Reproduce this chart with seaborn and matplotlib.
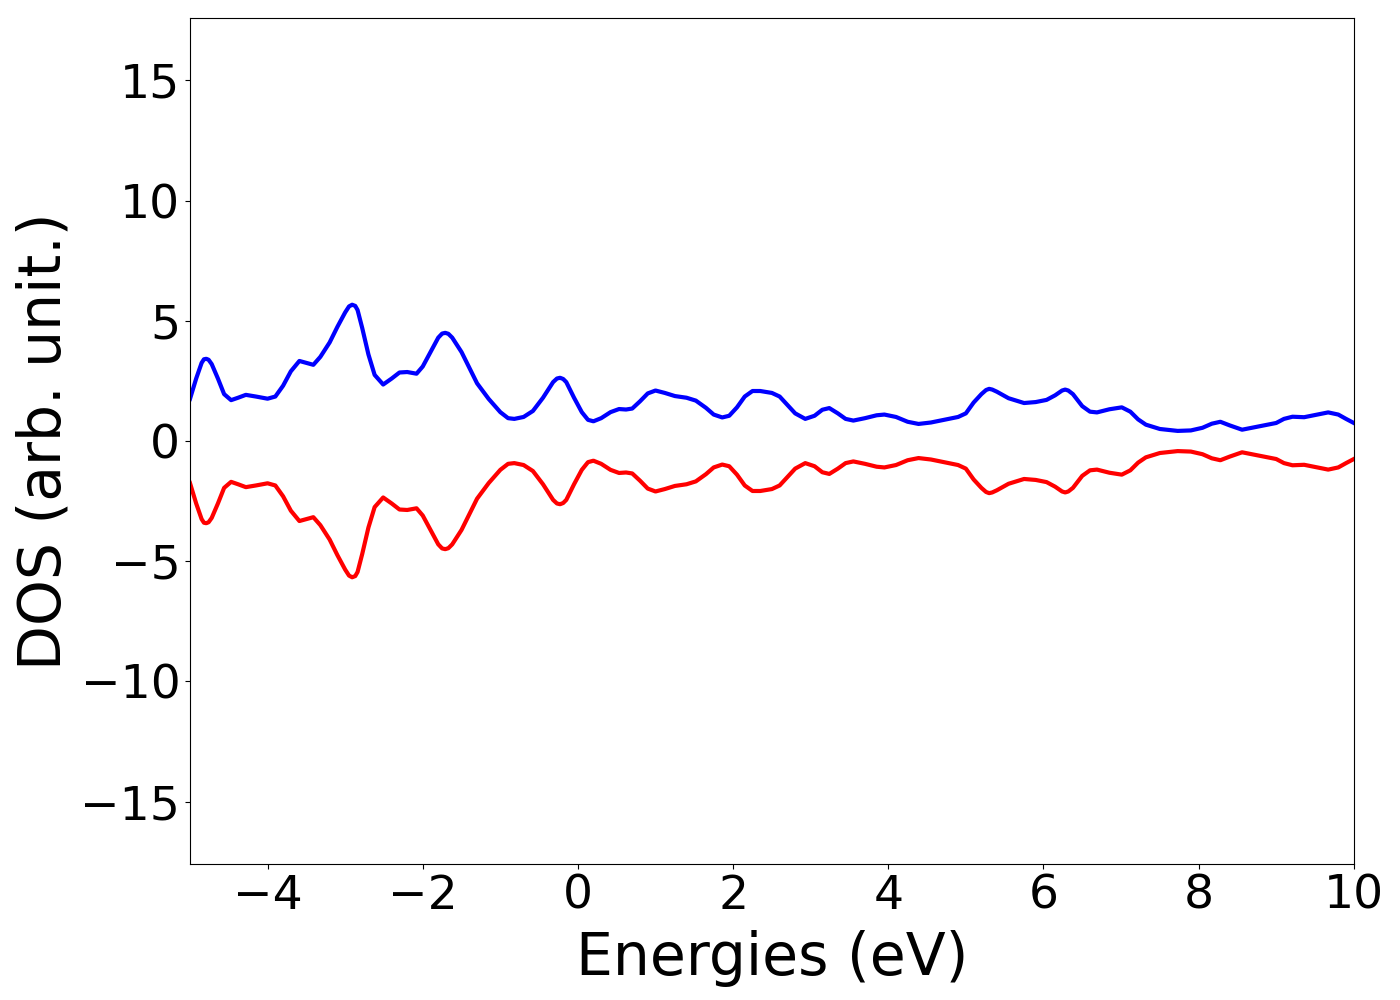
import matplotlib
matplotlib.use("Agg")
import matplotlib.pyplot as plt
import seaborn as sns
import pandas as pd

# energies (eV) and spin-resolved DOS
energies = [
    -5.00, -4.92, -4.85, -4.82, -4.79, -4.76, -4.72, -4.64, -4.56, -4.47,
    -4.38, -4.28, -4.15, -4.00, -3.90, -3.80, -3.70, -3.59, -3.50, -3.41,
    -3.32, -3.20, -3.10, -3.00, -2.95, -2.91, -2.87, -2.84, -2.78, -2.70,
    -2.62, -2.51, -2.40, -2.30, -2.20, -2.08, -2.00, -1.90, -1.80, -1.75,
    -1.71, -1.67, -1.62, -1.50, -1.40, -1.30, -1.15, -1.00, -0.90, -0.82,
    -0.70, -0.58, -0.45, -0.32, -0.27, -0.23, -0.19, -0.15, -0.05, 0.05,
    0.13, 0.20, 0.30, 0.42, 0.53, 0.62, 0.70, 0.80, 0.90, 1.00,
    1.12, 1.25, 1.40, 1.52, 1.65, 1.75, 1.86, 1.95, 2.05, 2.15,
    2.25, 2.35, 2.50, 2.60, 2.70, 2.80, 2.93, 3.05, 3.15, 3.24,
    3.35, 3.45, 3.55, 3.70, 3.85, 3.95, 4.10, 4.25, 4.39, 4.55,
    4.70, 4.90, 5.00, 5.10, 5.20, 5.26, 5.30, 5.34, 5.40, 5.55,
    5.75, 5.90, 6.04, 6.15, 6.24, 6.28, 6.32, 6.38, 6.50, 6.60,
    6.69, 6.85, 7.01, 7.12, 7.22, 7.32, 7.50, 7.73, 7.90, 8.05,
    8.17, 8.28, 8.40, 8.56, 8.70, 8.87, 9.00, 9.10, 9.21, 9.36,
    9.50, 9.67, 9.80, 9.90, 10.00,
]

dos_up = [
    1.75, 2.60, 3.25, 3.40, 3.42, 3.38, 3.20, 2.60, 1.95, 1.70,
    1.80, 1.92, 1.85, 1.76, 1.85, 2.30, 2.90, 3.33, 3.25, 3.17,
    3.50, 4.10, 4.75, 5.35, 5.60, 5.67, 5.62, 5.45, 4.70, 3.60,
    2.75, 2.35, 2.60, 2.85, 2.87, 2.80, 3.10, 3.70, 4.30, 4.47,
    4.50, 4.46, 4.30, 3.70, 3.05, 2.40, 1.75, 1.20, 0.95, 0.92,
    1.00, 1.25, 1.80, 2.45, 2.60, 2.63, 2.58, 2.45, 1.80, 1.20,
    0.88, 0.82, 0.95, 1.20, 1.33, 1.31, 1.35, 1.65, 1.98, 2.10,
    2.00, 1.87, 1.80, 1.68, 1.38, 1.10, 0.98, 1.05, 1.40, 1.85,
    2.08, 2.08, 2.00, 1.85, 1.50, 1.15, 0.92, 1.05, 1.30, 1.37,
    1.15, 0.92, 0.85, 0.95, 1.07, 1.10, 1.00, 0.80, 0.71, 0.77,
    0.87, 1.00, 1.15, 1.60, 1.95, 2.12, 2.17, 2.14, 2.05, 1.78,
    1.58, 1.62, 1.71, 1.90, 2.10, 2.14, 2.10, 1.95, 1.45, 1.22,
    1.19, 1.32, 1.40, 1.22, 0.90, 0.68, 0.50, 0.42, 0.44, 0.55,
    0.72, 0.80, 0.65, 0.47, 0.56, 0.67, 0.75, 0.92, 1.01, 0.99,
    1.08, 1.19, 1.10, 0.92, 0.75,
]

dos_down = [
    -1.75, -2.60, -3.25, -3.40, -3.42, -3.38, -3.20, -2.60, -1.95, -1.70,
    -1.80, -1.92, -1.85, -1.76, -1.85, -2.30, -2.90, -3.33, -3.25, -3.17,
    -3.50, -4.10, -4.75, -5.35, -5.60, -5.67, -5.62, -5.45, -4.70, -3.60,
    -2.75, -2.35, -2.60, -2.85, -2.87, -2.80, -3.10, -3.70, -4.30, -4.47,
    -4.50, -4.46, -4.30, -3.70, -3.05, -2.40, -1.75, -1.20, -0.95, -0.92,
    -1.00, -1.25, -1.80, -2.45, -2.60, -2.63, -2.58, -2.45, -1.80, -1.20,
    -0.88, -0.82, -0.95, -1.20, -1.33, -1.31, -1.35, -1.65, -1.98, -2.10,
    -2.00, -1.87, -1.80, -1.68, -1.38, -1.10, -0.98, -1.05, -1.40, -1.85,
    -2.08, -2.08, -2.00, -1.85, -1.50, -1.15, -0.92, -1.05, -1.30, -1.37,
    -1.15, -0.92, -0.85, -0.95, -1.07, -1.10, -1.00, -0.80, -0.71, -0.77,
    -0.87, -1.00, -1.15, -1.60, -1.95, -2.12, -2.17, -2.14, -2.05, -1.78,
    -1.58, -1.62, -1.71, -1.90, -2.10, -2.14, -2.10, -1.95, -1.45, -1.22,
    -1.19, -1.32, -1.40, -1.22, -0.90, -0.68, -0.50, -0.42, -0.44, -0.55,
    -0.72, -0.80, -0.65, -0.47, -0.56, -0.67, -0.75, -0.92, -1.01, -0.99,
    -1.08, -1.19, -1.10, -0.92, -0.75,
]

df = pd.DataFrame({"E": energies, "up": dos_up, "down": dos_down})

fig = plt.figure(figsize=(14, 10), dpi=100)
ax = fig.add_axes([0.1357, 0.136, 0.8313, 0.846])

# spin up (blue) and spin down (red)
sns.lineplot(data=df, x="E", y="up", ax=ax, color="blue", linewidth=3,
             solid_joinstyle="round")
sns.lineplot(data=df, x="E", y="down", ax=ax, color="red", linewidth=3,
             solid_joinstyle="round")

ax.set_xlim(-5, 10)
ax.set_ylim(-17.6, 17.6)
ax.set_xticks([-4, -2, 0, 2, 4, 6, 8, 10])
ax.set_yticks([-15, -10, -5, 0, 5, 10, 15])
ax.tick_params(labelsize=34)
ax.set_xlabel("Energies (eV)", fontsize=42, labelpad=8)
ax.set_ylabel("DOS (arb. unit.)", fontsize=42, labelpad=6)

fig.savefig("out.png", dpi=100)
